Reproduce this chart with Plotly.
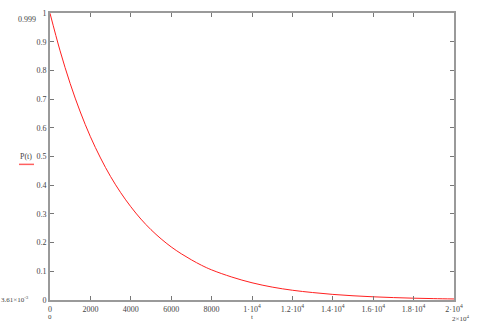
import plotly.graph_objects as go

# Data (P(t) decay curve)
t_vals = [0, 500, 1000, 1500, 2000, 2500, 3000, 3500, 4000, 4500, 5000, 5500,
          6000, 6500, 7000, 7500, 8000, 9000, 10000, 11000, 12000, 13000,
          14000, 15000, 16000, 17000, 18000, 19000, 20000]
p_vals = [0.999, 0.868, 0.754, 0.655, 0.569, 0.495, 0.430, 0.374, 0.325, 0.282,
          0.245, 0.213, 0.185, 0.161, 0.140, 0.121, 0.105, 0.080, 0.060, 0.045,
          0.034, 0.026, 0.0195, 0.0147, 0.0111, 0.0084, 0.0063, 0.0048, 0.00361]

x_tickvals = [0, 2000, 4000, 6000, 8000, 10000, 12000, 14000, 16000, 18000, 20000]
x_ticktext = ["0", "2000", "4000", "6000", "8000", "1\u00b710<sup>4</sup>",
              "1.2\u00b710<sup>4</sup>", "1.4\u00b710<sup>4</sup>",
              "1.6\u00b710<sup>4</sup>", "1.8\u00b710<sup>4</sup>", "2\u00b710<sup>4</sup>"]
y_tickvals = [0, 0.1, 0.2, 0.3, 0.4, 0.5, 0.6, 0.7, 0.8, 0.9, 1]
y_ticktext = ["0", "0.1", "0.2", "0.3", "0.4", "0.5", "0.6", "0.7", "0.8", "0.9", "1"]

FONT = "Liberation Serif"
TXT = "#444444"

fig = go.Figure()
fig.add_trace(go.Scatter(x=t_vals, y=p_vals, mode="lines",
                         line=dict(color="#ff2020", width=1, shape="spline"),
                         showlegend=False, hoverinfo="skip"))

axis_common = dict(showgrid=False, zeroline=False, showline=True, linecolor="#9a9a9a",
                   linewidth=2, mirror="allticks", ticks="inside", ticklen=4,
                   tickcolor="#777777", tickwidth=1,
                   tickfont=dict(family=FONT, size=8, color=TXT))

fig.update_layout(
    width=479, height=323,
    margin=dict(l=50, r=25, t=9, b=22),
    paper_bgcolor="white", plot_bgcolor="white",
    xaxis=dict(range=[0, 20000], tickmode="array", tickvals=x_tickvals,
               ticktext=x_ticktext, **axis_common),
    yaxis=dict(range=[0, 1], tickmode="array", tickvals=y_tickvals,
               ticktext=y_ticktext, **axis_common),
)

ann_font = dict(family=FONT, size=8, color=TXT)
small_font = dict(family=FONT, size=7, color=TXT)
fig.add_annotation(x=0, y=1, xref="paper", yref="paper", text="0.999",
                   showarrow=False, xanchor="right", yanchor="middle",
                   xshift=-12, yshift=-6, font=ann_font)
fig.add_annotation(x=0, y=0, xref="paper", yref="paper",
                   text="3.61\u00d710<sup>-3</sup>",
                   showarrow=False, xanchor="right", yanchor="middle",
                   xshift=-19, yshift=1, font=small_font)
fig.add_annotation(x=0, y=0, xref="paper", yref="paper", text="0",
                   showarrow=False, xanchor="center", yanchor="middle",
                   yshift=-17, font=small_font)
fig.add_annotation(x=1, y=0, xref="paper", yref="paper",
                   text="2\u00d710<sup>4</sup>",
                   showarrow=False, xanchor="center", yanchor="middle",
                   xshift=6, yshift=-18, font=small_font)
fig.add_annotation(x=0.5, y=0, xref="paper", yref="paper", text="t",
                   showarrow=False, xanchor="center", yanchor="middle",
                   yshift=-17, font=small_font)
fig.add_annotation(x=0, y=0.5, xref="paper", yref="paper", text="P(t)",
                   showarrow=False, xanchor="center", yanchor="middle",
                   xshift=-24, yshift=0, font=ann_font)
# legend sample line under P(t)
fig.add_shape(type="line", xref="x domain", yref="y domain",
              x0=-31 / 404, x1=-16 / 404, y0=0.5 - 8 / 292, y1=0.5 - 8 / 292,
              line=dict(color="#ff6060", width=1.5))

fig.write_html("out.html")
